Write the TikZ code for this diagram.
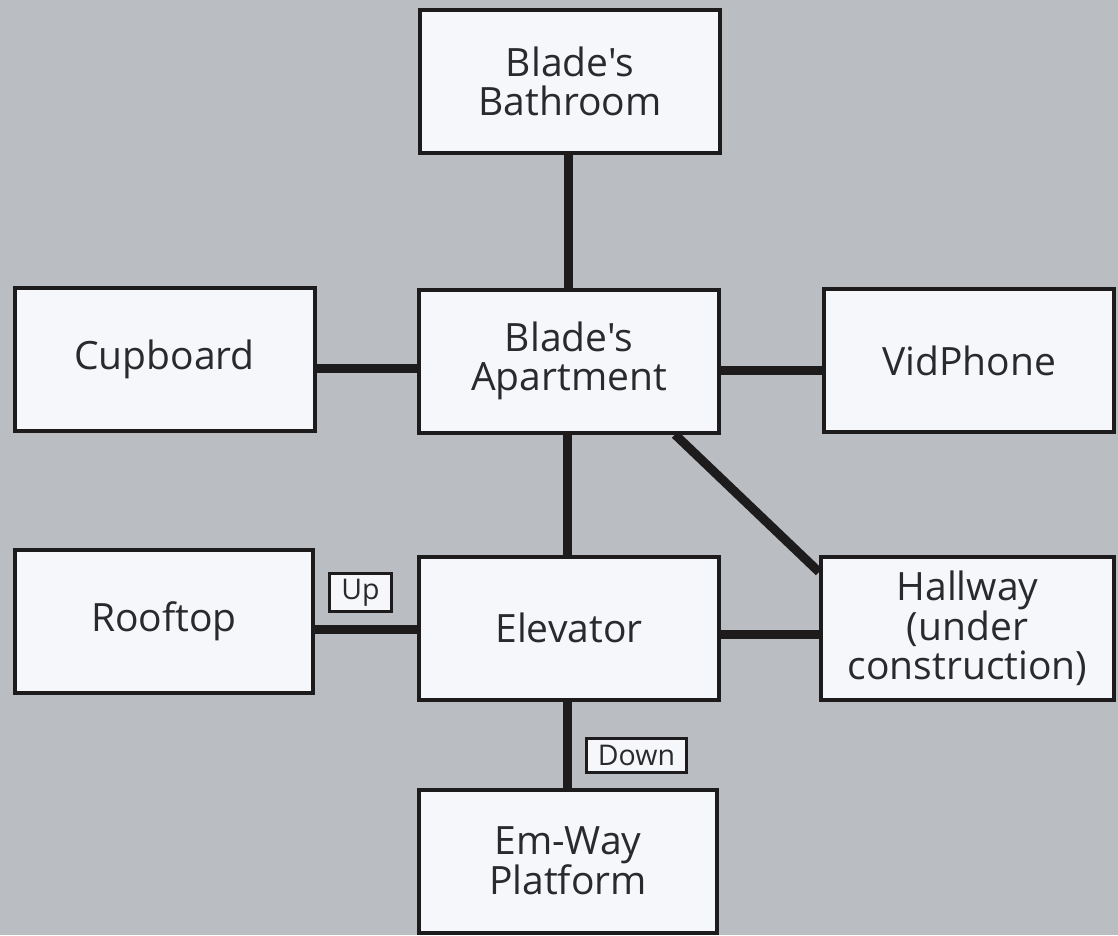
\documentclass[tikz,border=0pt]{standalone}
\usepackage{fontspec}
\setmainfont{Open Sans}[Ligatures=TeXOff]
\usetikzlibrary{backgrounds}
\definecolor{bg}{HTML}{BABDC2}
\definecolor{boxfill}{HTML}{F5F7FA}
\definecolor{ink}{HTML}{1E1B1C}
\definecolor{txt}{HTML}{2A2A2C}
\begin{document}
\begin{tikzpicture}[x=1pt,y=-1pt,
  room/.style={draw=ink, line width=4pt, fill=boxfill, text=txt, align=center,
    minimum width=300pt, minimum height=143pt, inner sep=0pt,
    font=\fontsize{39}{38.5}\selectfont},
  tag/.style={draw=ink, line width=3pt, fill=boxfill, text=txt, inner sep=0pt,
    font=\fontsize{28.5}{30}\selectfont},
  link/.style={draw=ink, line width=9pt}]
\useasboundingbox (0,0) rectangle (1118,935);

\node[room] (bath) at (570,81.5) {Blade's\\Bathroom};
\node[room] (cup) at (164.5,359) {Cupboard};
\node[room] (apt) at (569,361) {Blade's\\Apartment};
\node[room, minimum width=290pt] (vid) at (969,360.5) {VidPhone};
\node[room, minimum width=298pt] (roof) at (164,621.5) {Rooftop};
\node[room] (elev) at (569,628) {Elevator};
\node[room, minimum width=293pt] (hall) at (967.5,628.5) {Hallway\\(under\\construction)};
\node[room, minimum width=298pt] (emway) at (568,861) {Em-Way\\Platform};

\node[tag, minimum width=62pt, minimum height=38pt] (up) at (360.5,592.5) {Up};
\node[tag, minimum width=100pt, minimum height=34pt] (down) at (636.5,755.5) {Down};

\begin{scope}[on background layer]
\fill[bg] (0,0) rectangle (1118,935);
\draw[link] ([xshift=-2pt]bath.south) -- ([xshift=-2pt]bath.south |- apt.north);
\draw[link] ([xshift=-2pt]apt.south) -- ([xshift=-2pt]apt.south |- elev.north);
\draw[link] ([xshift=-2pt]elev.south) -- ([xshift=-2pt]elev.south |- emway.north);
\draw[link] ([yshift=-9pt]cup.east) -- ([yshift=-9pt]cup.east -| apt.west);
\draw[link] ([yshift=-9pt]apt.east) -- ([yshift=-9pt]apt.east -| vid.west);
\draw[link] ([yshift=-7.5pt]roof.east) -- ([yshift=-7.5pt]roof.east -| elev.west);
\draw[link] ([yshift=-6pt]elev.east) -- ([yshift=-6pt]elev.east -| hall.west);
\draw[link] ([xshift=106pt]apt.south) -- ([yshift=-17pt]hall.north west);
\end{scope}
\end{tikzpicture}
\end{document}
